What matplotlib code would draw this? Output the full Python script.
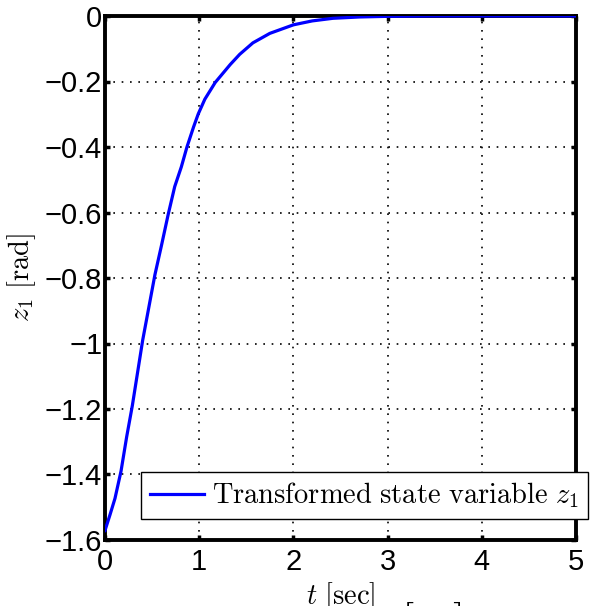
import matplotlib
matplotlib.use("Agg")
import matplotlib.pyplot as plt
from matplotlib.ticker import FixedLocator, FuncFormatter

plt.rcParams['mathtext.fontset'] = 'cm'

# Data
t = [0, 0.053, 0.106, 0.17, 0.23, 0.29, 0.40, 0.53, 0.60, 0.67, 0.74, 0.81,
     0.87, 0.94, 0.99, 1.06, 1.17, 1.33, 1.43, 1.57, 1.75, 2.0, 2.2, 2.42,
     2.7, 3.0, 3.5, 4.0, 5.0]
z1 = [-1.571, -1.523, -1.473, -1.39, -1.285, -1.19, -0.99, -0.79, -0.70,
      -0.607, -0.521, -0.461, -0.40, -0.339, -0.299, -0.254, -0.203, -0.148,
      -0.117, -0.082, -0.053, -0.027, -0.015, -0.007, -0.003, -0.001, 0.0,
      0.0, 0.0]
xticks = [0, 1, 2, 3, 4, 5]
yticks = [-1.6, -1.4, -1.2, -1.0, -0.8, -0.6, -0.4, -0.2, 0.0]

W, H = 608, 606
fig = plt.figure(figsize=(W / 100, H / 100), dpi=100)
ax = fig.add_axes([105 / W, 1 - 540 / H, (576 - 105) / W, (540 - 16) / H])

ax.plot(t, z1, color=(0, 0, 1), lw=2.3, label=r'$\mathrm{Transformed\ state\ variable}\ z_1$',
        solid_joinstyle='round', zorder=3)

ax.set_xlim(0, 5)
ax.set_ylim(-1.6, 0)
ax.xaxis.set_major_locator(FixedLocator(xticks))
ax.yaxis.set_major_locator(FixedLocator(yticks))


def fmt(v, pos):
    s = ('%.1f' % v).rstrip('0').rstrip('.')
    if s in ('-0', ''):
        s = '0'
    return s.replace('-', '\u2212')


ax.xaxis.set_major_formatter(FuncFormatter(fmt))
ax.yaxis.set_major_formatter(FuncFormatter(fmt))

for sp in ax.spines.values():
    sp.set_linewidth(2.8)
    sp.set_color('black')

ax.tick_params(axis='both', which='major', direction='in', length=3.5, width=2.5,
               top=True, right=True, labelsize=21, colors='black')
ax.tick_params(axis='y', pad=2)
ax.tick_params(axis='x', pad=6)
for lab in ax.get_xticklabels() + ax.get_yticklabels():
    lab.set_fontfamily('Liberation Sans')

ax.grid(True, color='black', linestyle=(0, (1, 4)), lw=1.2)
ax.set_axisbelow(False)

ax.set_ylabel(r'$z_1\ [\mathrm{rad}]$', fontsize=20.5)
ax.yaxis.set_label_coords(-0.142, 0.5)
ax.set_xlabel(r'$t\ [\mathrm{sec}]$', fontsize=20.5)
ax.xaxis.set_label_coords(0.5, -0.076)

leg = ax.legend(loc='upper left', bbox_to_anchor=(141 / W, 1 - 472 / H),
                bbox_transform=fig.transFigure, borderaxespad=0, fontsize=20.5,
                handlelength=1.9, handletextpad=0.3, borderpad=0.3,
                fancybox=False, framealpha=1, edgecolor='black')
leg.get_frame().set_linewidth(1.0)

fig.text(431 / W, 1 - 600 / H, r'$[\quad]$', fontsize=32, ha='center', va='top')

fig.savefig('out.png', dpi=100)
